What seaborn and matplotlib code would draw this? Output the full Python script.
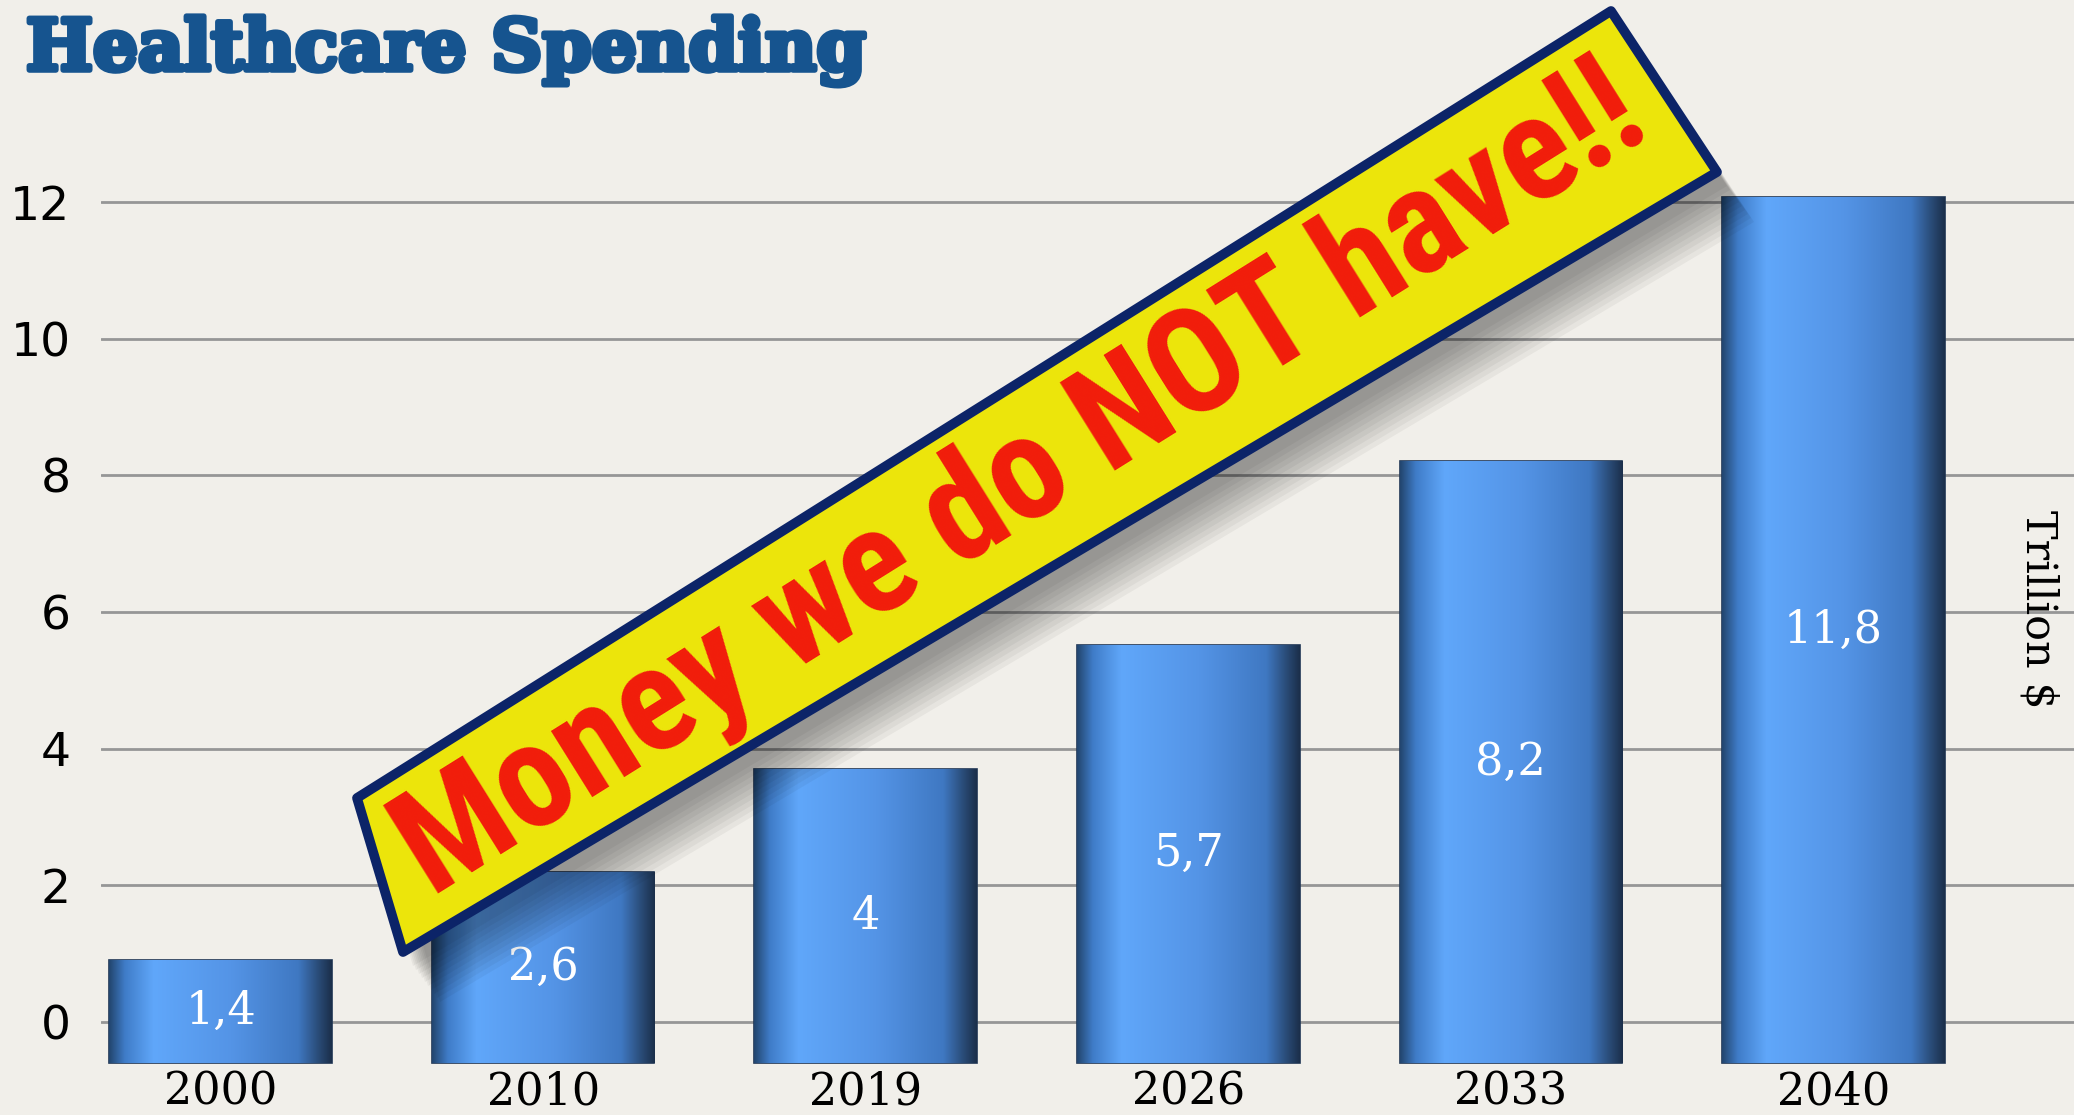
import matplotlib
matplotlib.use('Agg')
import matplotlib.pyplot as plt
import matplotlib.patheffects as pe
import seaborn as sns
import numpy as np
import pandas as pd
from matplotlib import font_manager
from matplotlib.colors import LinearSegmentedColormap
from matplotlib.patches import Polygon

# data (trillion $)
years = ['2000', '2010', '2019', '2026', '2033', '2040']
spending = [1.4, 2.6, 4.0, 5.7, 8.2, 11.8]
value_labels = ['1,4', '2,6', '4', '5,7', '8,2', '11,8']
y_ticks = [0, 2, 4, 6, 8, 10, 12]

title = 'Healthcare Spending'
unit_label = 'Trillion $'
banner_text = 'Money we do NOT have!!'

W, H = 2074, 1115
paper = '#f1efea'

sns.set_style('white')
plt.rcParams['font.family'] = ['DejaVu Sans']
plt.rcParams['text.color'] = 'black'
plt.rcParams['xtick.color'] = 'black'
plt.rcParams['ytick.color'] = 'black'

available = {f.name for f in font_manager.fontManager.ttflist}


def first_font(cands, default):
    for c in cands:
        if c in available:
            return c
    return default


title_font = first_font(['DejaVu Serif Condensed'], 'DejaVu Serif')
banner_font = first_font(['Liberation Sans Narrow', 'Roboto Condensed',
                          'DejaVu Sans Condensed', 'Roboto'], 'DejaVu Sans')

fig = plt.figure(figsize=(W / 100, H / 100), dpi=100)
fig.patch.set_facecolor(paper)

ax = fig.add_axes([101 / W, 45 / H, 1 - 101 / W, 910 / H])
ax.set_facecolor(paper)
ax2 = ax.twinx()

df = pd.DataFrame({'year': years, 'spending': spending})
sns.barplot(data=df, x='year', y='spending', ax=ax2, width=0.69,
            color='#5596e8', saturation=1, edgecolor='#1f3654',
            linewidth=1.2, zorder=2)

# shaded look on the bars
bar_cmap = LinearSegmentedColormap.from_list('bar', [
    (0, '#23466f'), (0.07, '#3f7cc8'), (0.2, '#60a7fa'), (0.55, '#5494e6'),
    (0.85, '#3f78c2'), (0.94, '#2a4c78'), (1, '#1b2f4b')])
grad = np.linspace(0, 1, 256).reshape(1, -1)
for p in list(ax2.patches):
    x0, y0 = p.get_x(), p.get_y()
    im = ax2.imshow(grad, cmap=bar_cmap, aspect='auto', interpolation='bicubic',
                    extent=(x0, x0 + p.get_width(), y0, y0 + p.get_height()),
                    zorder=2.1)
    im.set_clip_path(p)

for i, (v, lab) in enumerate(zip(spending, value_labels)):
    ax2.text(i, v / 2, lab, ha='center', va='center', color='white',
             fontsize=32, family='DejaVu Serif', zorder=3)

ax.set_xlim(-0.371, 5.746)
ax.set_ylim(-0.7025, 12.615)
ax2.set_ylim(-0.095, 12.30)

ax.set_yticks(y_ticks)
ax.set_yticklabels([str(t) for t in y_ticks], fontsize=34, family='DejaVu Sans')
ax.yaxis.grid(True, color='#969696', lw=2)
ax.xaxis.grid(False)
ax.set_xticks(range(len(years)))
ax.set_xticklabels(years, fontsize=32, family='DejaVu Serif')
ax.tick_params(axis='y', length=0, pad=22)
ax.tick_params(axis='x', length=0, pad=0)
ax.set_xlabel('')
ax.set_ylabel('')
ax2.set_yticks([])
ax2.set_ylabel('')
ax2.set_xlabel('')
for a in (ax, ax2):
    for s in a.spines.values():
        s.set_visible(False)

fig.text(2038 / W, 1 - 609 / H, unit_label, rotation=-90, ha='center',
         va='center', fontsize=31, family='DejaVu Serif', color='black')

ttl = fig.text(26 / W, 1 - 70 / H, title, fontsize=57, fontweight='bold',
               family=title_font, color='#16548f', ha='left', va='baseline',
               path_effects=[pe.withStroke(linewidth=4, foreground='#16548f')])

# banner across the chart
corners = [(357, 798), (403, 952), (1717, 172), (1611, 11)]


def to_fig(pts, dx=0, dy=0):
    return [((x + dx) / W, 1 - (y + dy) / H) for x, y in pts]


for k in range(10):
    fig.add_artist(Polygon(to_fig(corners, 10 + 3 * k, 14 + 4 * k), closed=True,
                           transform=fig.transFigure, facecolor='black',
                           alpha=0.045, edgecolor='none', zorder=3))
fig.add_artist(Polygon(to_fig(corners), closed=True, transform=fig.transFigure,
                       facecolor='#ece50b', edgecolor='#0c2468', linewidth=7,
                       joinstyle='round', zorder=4))

bt = fig.text(1022 / W, 1 - 483 / H, banner_text, ha='center', va='center',
              rotation_mode='anchor', color='#f21c0b', fontweight='bold',
              family=banner_font, fontsize=100, zorder=5)

r = fig.canvas.get_renderer()
w = bt.get_window_extent(r).width
bt.set_fontsize(min(105, 100 * 1480 / w))
bt.set_rotation(32)
w = ttl.get_window_extent(r).width
ttl.set_fontsize(min(57, 57 * 840 / w))

fig.savefig('out.png', dpi=100, facecolor=paper)
